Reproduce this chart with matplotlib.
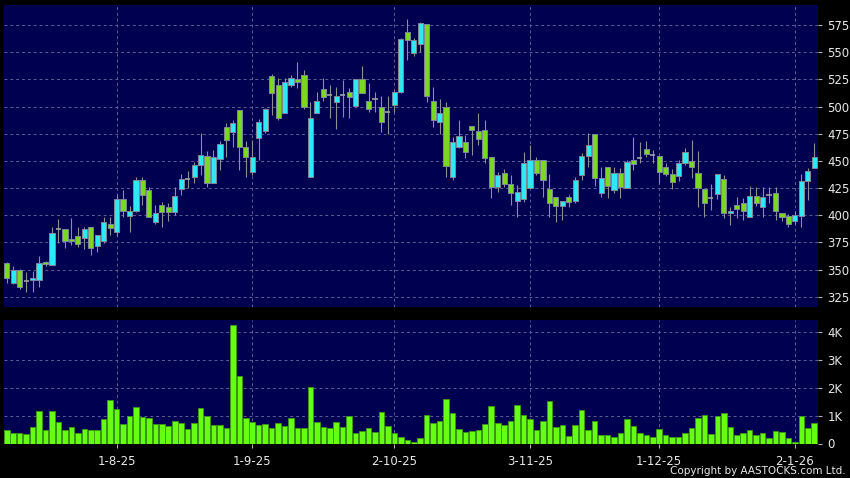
import matplotlib
matplotlib.use("Agg")
import matplotlib.pyplot as plt
import numpy as np
import pandas as pd

# ---------------- data ----------------
opens = [355.7, 338.0, 349.6, 339.5, 340.5, 340.4, 356.6, 354.2, 387.3, 387.6,
         378.1, 381.2, 379.3, 389.5, 372.0, 376.0, 391.6, 384.9, 414.6, 399.6,
         404.1, 432.4, 423.2, 394.0, 409.1, 407.5, 402.6, 423.8, 433.3, 434.8,
         445.9, 454.8, 429.9, 451.4, 481.5, 476.5, 496.8, 462.4, 439.4, 470.7,
         477.5, 528.4, 519.5, 493.7, 519.8, 525.0, 529.0, 434.8, 494.3, 515.8,
         510.3, 504.5, 510.9, 513.7, 500.5, 525.0, 505.4, 506.6, 499.2, 495.3,
         501.4, 513.0, 568.9, 549.5, 557.2, 575.6, 505.0, 485.4, 499.2, 434.8,
         463.0, 467.6, 482.1, 477.8, 478.4, 453.8, 425.6, 438.5, 428.7, 413.1,
         414.9, 424.7, 450.8, 450.8, 423.8, 416.4, 408.5, 417.0, 413.4, 437.0,
         454.5, 474.4, 420.7, 444.0, 423.2, 439.1, 424.7, 450.8, 452.9, 460.6,
         455.4, 454.5, 444.0, 437.6, 436.4, 447.7, 449.9, 438.5, 423.8, 416.1,
         419.2, 433.0, 401.7, 409.4, 410.9, 398.6, 417.6, 407.2, 418.6, 420.1,
         402.3, 399.3, 395.0, 399.6, 431.5, 443.1]
closes = [341.9, 349.6, 334.2, 339.5, 342.0, 356.3, 354.8, 383.3, 387.3, 376.6,
          376.6, 373.8, 387.0, 369.5, 381.5, 393.4, 387.9, 414.6, 404.2, 403.9,
          432.4, 418.9, 398.6, 401.7, 402.6, 402.6, 417.6, 433.0, 433.3, 445.9,
          455.1, 429.9, 453.2, 465.2, 469.2, 484.5, 462.4, 453.2, 453.2, 485.4,
          497.4, 512.1, 489.7, 522.9, 525.9, 522.2, 499.9, 489.7, 505.3, 508.4,
          510.3, 510.0, 510.9, 508.4, 525.0, 512.1, 497.4, 506.6, 485.4, 495.3,
          513.0, 561.8, 561.2, 561.2, 576.5, 509.7, 487.6, 493.7, 445.2, 467.6,
          472.8, 457.8, 478.4, 469.8, 452.3, 425.6, 437.0, 428.7, 420.7, 421.6,
          447.7, 450.8, 438.5, 432.4, 410.9, 408.5, 413.1, 411.8, 432.4, 454.5,
          464.6, 433.9, 433.9, 427.2, 438.5, 425.6, 449.3, 446.8, 452.9, 456.0,
          455.4, 439.4, 437.6, 430.9, 447.7, 458.5, 444.7, 425.3, 410.9, 416.1,
          437.6, 401.7, 403.9, 405.4, 404.2, 417.6, 411.5, 417.0, 418.6, 404.2,
          398.0, 391.9, 400.2, 431.5, 440.7, 453.9]
highs = [357.2, 353.6, 350.5, 347.4, 349.0, 362.8, 358.0, 389.5, 396.2, 387.6,
         397.1, 389.5, 389.5, 389.5, 381.5, 398.7, 398.7, 419.5, 423.2, 408.5,
         434.8, 435.4, 426.2, 409.0, 412.4, 410.9, 426.2, 437.9, 440.7, 449.2,
         476.0, 459.4, 460.0, 468.3, 484.5, 487.6, 496.8, 468.6, 469.2, 488.2,
         499.0, 530.0, 525.9, 525.9, 529.0, 540.7, 533.6, 504.5, 513.7, 525.9,
         519.8, 518.3, 524.4, 516.7, 525.0, 537.3, 521.3, 513.7, 509.7, 509.7,
         515.0, 563.0, 580.5, 562.7, 577.5, 575.6, 518.2, 506.6, 504.4, 472.2,
         487.6, 473.8, 482.1, 493.7, 487.6, 453.8, 440.0, 442.2, 437.0, 427.8,
         458.5, 464.6, 453.9, 450.8, 437.9, 416.4, 413.1, 418.6, 434.8, 457.5,
         475.9, 474.4, 444.7, 444.0, 444.7, 443.1, 451.0, 472.3, 467.7, 468.3,
         460.0, 454.5, 448.3, 442.2, 450.8, 461.5, 469.2, 459.0, 423.8, 428.4,
         437.6, 437.0, 407.9, 416.4, 416.0, 426.9, 426.2, 426.2, 426.2, 426.2,
         402.3, 401.0, 404.2, 437.6, 443.0, 466.7]
lows = [337.9, 336.4, 332.1, 329.0, 329.0, 334.2, 353.0, 354.2, 374.7, 369.5,
        372.6, 370.4, 368.6, 363.4, 366.4, 374.1, 381.8, 381.2, 398.7, 384.9,
        403.0, 409.4, 398.0, 392.0, 388.8, 395.0, 400.0, 418.6, 424.7, 429.3,
        437.0, 425.6, 429.9, 441.6, 453.2, 463.0, 441.6, 435.4, 437.0, 450.8,
        476.0, 492.2, 487.6, 493.7, 518.3, 516.7, 497.4, 434.8, 494.3, 505.0,
        489.1, 479.3, 490.7, 489.1, 500.5, 512.1, 495.0, 495.3, 476.8, 474.4,
        495.0, 512.0, 542.8, 546.8, 550.5, 504.4, 481.5, 474.7, 434.8, 432.4,
        461.5, 452.3, 455.4, 464.6, 447.7, 415.5, 421.6, 426.2, 409.4, 398.6,
        412.0, 424.7, 437.0, 417.0, 398.6, 394.0, 395.6, 407.9, 411.0, 432.4,
        444.7, 426.9, 416.4, 415.5, 420.0, 415.5, 424.7, 441.6, 447.7, 454.0,
        448.3, 429.9, 436.0, 424.1, 431.8, 446.0, 433.9, 407.2, 398.6, 404.8,
        415.0, 397.1, 391.0, 397.1, 395.6, 398.6, 408.0, 398.6, 410.9, 395.6,
        395.0, 389.4, 391.9, 388.8, 414.0, 443.1]
volumes_k = [0.48, 0.37, 0.37, 0.33, 0.59, 1.15, 0.48, 1.18, 0.76, 0.48,
             0.59, 0.37, 0.51, 0.48, 0.47, 0.87, 1.54, 1.22, 0.69, 0.99,
             1.29, 0.94, 0.93, 0.69, 0.69, 0.62, 0.79, 0.73, 0.51, 0.75,
             1.27, 0.98, 0.66, 0.68, 0.55, 4.24, 2.41, 0.91, 0.76, 0.65,
             0.69, 0.55, 0.73, 0.62, 0.92, 0.57, 0.54, 2.01, 0.78, 0.59,
             0.54, 0.76, 0.59, 0.99, 0.37, 0.44, 0.54, 0.42, 1.11, 0.63,
             0.39, 0.22, 0.11, 0.07, 0.18, 1.02, 0.74, 0.80, 1.58, 1.09,
             0.51, 0.41, 0.45, 0.47, 0.69, 1.34, 0.73, 0.67, 0.81, 1.39,
             1.02, 0.86, 0.48, 0.81, 1.53, 0.60, 0.67, 0.27, 0.65, 1.21,
             0.50, 0.82, 0.32, 0.32, 0.23, 0.39, 0.86, 0.63, 0.37, 0.31,
             0.23, 0.51, 0.29, 0.24, 0.23, 0.37, 0.57, 0.93, 1.02, 0.33,
             0.98, 1.09, 0.60, 0.29, 0.39, 0.50, 0.32, 0.39, 0.20, 0.43,
             0.42, 0.19, 0.06, 0.98, 0.57, 0.72]

first_day = "2025-07-09"
last_day = "2026-01-07"
closed_days = ["2025-10-01", "2025-10-29", "2025-12-25", "2025-12-26", "2026-01-01"]
price_ticks = [325, 350, 375, 400, 425, 450, 475, 500, 525, 550, 575]
volume_ticks = [0, 1, 2, 3, 4]
volume_tick_labels = ["0", "1K", "2K", "3K", "4K"]
copyright_text = "Copyright by AASTOCKS.com Ltd."

# ---------------- styling ----------------
BG = "#000000"
PANEL = "#000050"
GRID = "#5e5e96"
UP = "#2ee8f4"
DOWN = "#7ad81e"
EDGE = "#7d8898"
WICK = "#8e8e96"
VOL = "#66ff14"
VOL_EDGE = "#3c9a12"
TXT = "#e8e8e8"

n = len(opens)
dates = pd.bdate_range(first_day, last_day)
dates = dates[~dates.isin(pd.to_datetime(closed_days))][:n]
x = np.arange(n)

o = np.array(opens); c = np.array(closes)
h = np.array(highs); l = np.array(lows)
v = np.array(volumes_k)

# month-start ticks (skip the first partial month)
tick_idx, tick_lab = [], []
prev_month = dates[0].month
for i, d in enumerate(dates):
    if d.month != prev_month:
        tick_idx.append(i)
        tick_lab.append(f"{d.day}-{d.month}-{d.strftime('%y')}")
    prev_month = d.month

fig = plt.figure(figsize=(8.5, 4.78), dpi=100, facecolor=BG)
W, H = 850.0, 478.0
axp = fig.add_axes([4 / W, 1 - 306.7 / H, (817.5 - 4) / W, (306.7 - 5) / H])
axv = fig.add_axes([4 / W, 1 - 443.5 / H, (817.5 - 4) / W, (443.5 - 320) / H])

for ax in (axp, axv):
    ax.set_facecolor(PANEL)
    for s in ax.spines.values():
        s.set_visible(False)
    ax.set_xlim(-0.43, 125.5)
    ax.yaxis.tick_right()
    ax.tick_params(axis="y", colors="#b0b0b0", labelcolor=TXT, length=3,
                   width=0.8, pad=4, labelsize=8.5)
    ax.set_xticks(tick_idx)
    ax.grid(True, color=GRID, linestyle=(0, (3, 3)), linewidth=0.7)
    ax.set_axisbelow(True)

# ---- price panel ----
axp.set_ylim(315.8, 593.4)
axp.set_yticks(price_ticks)
axp.set_yticklabels([str(t) for t in price_ticks])
axp.tick_params(axis="x", length=0, labelbottom=False)

up = c > o + 0.3
down = o > c + 0.3
flat = ~(up | down)

axp.vlines(x, l, h, color=WICK, linewidth=0.8, zorder=2)
bw = 0.8
axp.bar(x[up], (c - o)[up], bottom=o[up], width=bw, color=UP,
        edgecolor=EDGE, linewidth=0.7, zorder=3)
axp.bar(x[down], (o - c)[down], bottom=c[down], width=bw, color=DOWN,
        edgecolor=EDGE, linewidth=0.7, zorder=3)
axp.hlines(c[flat], x[flat] - bw / 2, x[flat] + bw / 2, color="#a0a0a8",
           linewidth=1.2, zorder=3)

# ---- volume panel ----
axv.set_ylim(0, 4.42)
axv.set_yticks(volume_ticks)
axv.set_yticklabels(volume_tick_labels)
axv.bar(x, v, width=0.86, color=VOL, edgecolor=VOL_EDGE, linewidth=0.6, zorder=3)
axv.set_xticklabels(tick_lab)
axv.tick_params(axis="x", colors="#b0b0b0", labelcolor=TXT, length=3,
                width=0.8, pad=5, labelsize=8.5)

fig.text(846 / W, 1 - 471 / H, copyright_text, color=TXT, fontsize=7.5,
         ha="right", va="center")

fig.savefig("out.png", dpi=100, facecolor=BG)
